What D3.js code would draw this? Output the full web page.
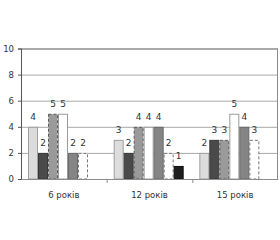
<!DOCTYPE html>
<html>
<head>
<meta charset="utf-8">
<script src="https://cdn.jsdelivr.net/npm/d3@7"></script>
<style>
  body { margin: 0; background: #fff; }
  text { font-family: "DejaVu Sans", Verdana, sans-serif; }
</style>
</head>
<body>
<svg id="chart" width="280" height="240"></svg>
<script>
// groups on the x axis
const groups = ["6 років", "12 років", "15 років"];
// one array per series, values per group
const s1 = [4, 3, 2];
const s2 = [2, 2, 3];
const s3 = [5, 4, 3];
const s4 = [5, 4, 5];
const s5 = [2, 4, 4];
const s6 = [2, 2, 3];
const s7 = [0, 1, 0];
const yTicks = [0, 2, 4, 6, 8, 10];

const series = [s1, s2, s3, s4, s5, s6, s7];

// look of each series
const styles = [
  {fill: "#dcdcdc", stroke: "#a0a0a0", dash: null},
  {fill: "#4a4a4a", stroke: "#3a3a3a", dash: null},
  {fill: "#9a9a9a", stroke: "#5a5a5a", dash: "3,2"},
  {fill: "#ffffff", stroke: "#9a9a9a", dash: null},
  {fill: "#858585", stroke: "#6a6a6a", dash: null},
  {fill: "#ffffff", stroke: "#777777", dash: "3,2"},
  {fill: "#1e1e1e", stroke: "#111111", dash: null}
];

const svg = d3.select("#chart");
const plot = {left: 21, right: 278, top: 48.5, bottom: 179};

const x0 = d3.scaleBand().domain(groups).range([plot.left, plot.right]);
const x1 = d3.scaleBand().domain(d3.range(series.length))
    .range([7, 77]);
const y = d3.scaleLinear().domain([0, 10]).range([plot.bottom, plot.top]);

// gridlines
svg.append("g")
    .selectAll("line")
    .data(yTicks.filter(d => d > 0))
    .enter().append("line")
    .attr("x1", plot.left).attr("x2", plot.right)
    .attr("y1", d => y(d) + 0.5).attr("y2", d => y(d) + 0.5)
    .attr("stroke", d => d === 10 ? "#8c8c8c" : "#a8a8a8")
    .attr("stroke-width", d => d === 10 ? 1.5 : 1);

// right border
svg.append("line")
    .attr("x1", plot.right - 0.5).attr("x2", plot.right - 0.5)
    .attr("y1", plot.top).attr("y2", plot.bottom)
    .attr("stroke", "#8c8c8c");

// bars
const gGroups = svg.append("g")
    .selectAll("g")
    .data(groups)
    .enter().append("g")
    .attr("transform", d => "translate(" + x0(d) + ",0)");

gGroups.each(function(grp, gi) {
    const g = d3.select(this);
    series.forEach((s, si) => {
        const v = s[gi];
        if (v <= 0) return;
        const st = styles[si];
        g.append("rect")
            .attr("x", x1(si) + 0.5)
            .attr("y", y(v) + 0.5)
            .attr("width", x1.bandwidth() - 1)
            .attr("height", y(0) - y(v) - 0.5)
            .attr("fill", st.fill)
            .attr("stroke", st.stroke)
            .attr("stroke-width", 1)
            .attr("stroke-dasharray", st.dash);
        g.append("text")
            .attr("x", x1(si) + x1.bandwidth() / 2)
            .attr("y", y(v) - 7)
            .attr("text-anchor", "middle")
            .attr("font-size", 9)
            .attr("fill", "#333")
            .text(v);
    });
});

// x axis
const xAxis = d3.axisBottom(x0).tickSize(0).tickFormat(d => d);
const gx = svg.append("g")
    .attr("transform", "translate(0," + plot.bottom + ")")
    .call(xAxis);
gx.select(".domain").attr("stroke", "#8c8c8c");
gx.selectAll("text")
    .attr("dy", 0)
    .attr("y", 19)
    .attr("font-size", 8.5)
    .attr("fill", "#333")
    .style("font-family", "DejaVu Sans, sans-serif");

// boundary ticks between groups
svg.append("g")
    .selectAll("line")
    .data(groups.slice(1))
    .enter().append("line")
    .attr("x1", d => x0(d) + 0.5).attr("x2", d => x0(d) + 0.5)
    .attr("y1", plot.bottom).attr("y2", plot.bottom + 4)
    .attr("stroke", "#8c8c8c");

// y axis
const yAxis = d3.axisLeft(y).tickValues(yTicks).tickSize(3).tickPadding(4);
const gy = svg.append("g")
    .attr("transform", "translate(" + plot.left + ",0)")
    .call(yAxis);
gy.select(".domain").attr("stroke", "#555");
gy.selectAll(".tick line").attr("stroke", "#555");
gy.selectAll("text")
    .attr("font-size", 8.5)
    .attr("fill", "#333")
    .style("font-family", "DejaVu Sans, sans-serif");
</script>
</body>
</html>
